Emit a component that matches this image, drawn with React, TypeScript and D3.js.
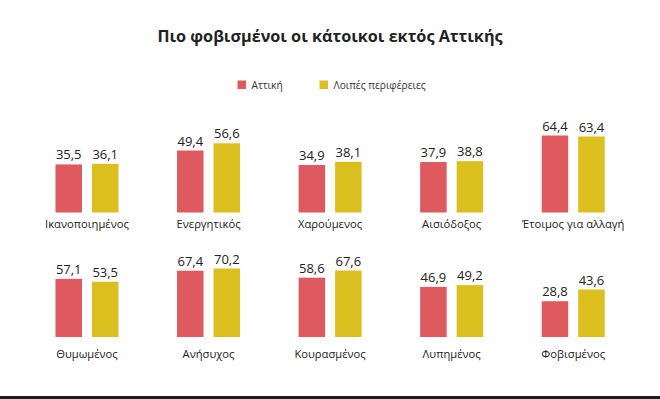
import React from "react";
import * as d3 from "d3";

const title = "Πιο φοβισμένοι οι κάτοικοι εκτός Αττικής";
const seriesNames = ["Αττική", "Λοιπές περιφέρειες"];
const seriesColors = ["#de5a5f", "#dabf1f"];

const row1Categories = ["Ικανοποιημένος", "Ενεργητικός", "Χαρούμενος", "Αισιόδοξος", "Έτοιμος για αλλαγή"];
const row1Attiki = [35.5, 49.4, 34.9, 37.9, 64.4];
const row1Loipes = [36.1, 56.6, 38.1, 38.8, 63.4];

const row2Categories = ["Θυμωμένος", "Ανήσυχος", "Κουρασμένος", "Λυπημένος", "Φοβισμένος"];
const row2Attiki = [57.1, 67.4, 58.6, 46.9, 28.8];
const row2Loipes = [53.5, 70.2, 67.6, 49.2, 43.6];

const W = 660;
const H = 399;
const FONT = "'Open Sans', 'Noto Sans', sans-serif";

type RowSpec = {
  cats: string[];
  a: number[];
  b: number[];
  domain: [number, number];
  range: [number, number];
  labelY: number;
};

const rows: RowSpec[] = [
  { cats: row1Categories, a: row1Attiki, b: row1Loipes, domain: [-12.5, 64.4], range: [212.5, 135.5], labelY: 227.5 },
  { cats: row2Categories, a: row2Attiki, b: row2Loipes, domain: [-16.5, 70.2], range: [337, 268.5], labelY: 358 },
];

const fmt = (v: number) => v.toFixed(1).replace(".", ",");

export default function App() {
  const xPanel = d3.scaleBand<string>().domain(d3.range(5).map(String)).range([26.2, 634]).padding(0);
  const xSeries = d3.scaleBand<string>().domain(seriesNames).range([-31.5, 31.5]).paddingInner(0.274).paddingOuter(0);

  return (
    <svg width={W} height={H} style={{ position: "absolute", left: 0, top: 0, background: "#fff" }} fontFamily={FONT}>
      <rect x={0} y={0} width={W} height={H} fill="#fff" />
      <text x={330} y={42} textAnchor="middle" fontSize={16.2} fontWeight={700} fill="#222">{title}</text>
      {/* legend */}
      <g>
        <rect x={237.5} y={80.5} width={8.5} height={8.5} fill={seriesColors[0]} />
        <text x={251.5} y={88.5} fontSize={10.2} fill="#333">{seriesNames[0]}</text>
        <rect x={319.5} y={80.5} width={8.5} height={8.5} fill={seriesColors[1]} />
        <text x={333.5} y={88.5} fontSize={10.2} fill="#333">{seriesNames[1]}</text>
      </g>
      {rows.map((row, ri) => {
        const y = d3.scaleLinear().domain(row.domain).range(row.range);
        const base = row.range[0];
        return (
          <g key={ri}>
            {row.cats.map((cat, ci) => {
              const cx = (xPanel(String(ci)) as number) + xPanel.bandwidth() / 2;
              const vals = [row.a[ci], row.b[ci]];
              return (
                <g key={cat}>
                  {vals.map((v, si) => {
                    const bx = cx + (xSeries(seriesNames[si]) as number);
                    const top = y(v);
                    return (
                      <g key={si}>
                        <rect x={bx} y={top} width={xSeries.bandwidth()} height={base - top} fill={seriesColors[si]} />
                        <text x={bx + xSeries.bandwidth() / 2} y={top - 5} textAnchor="middle" fontSize={13} fill="#222">{fmt(v)}</text>
                      </g>
                    );
                  })}
                  <text x={cx} y={row.labelY} textAnchor="middle" fontSize={11.2} fill="#222">{cat}</text>
                </g>
              );
            })}
          </g>
        );
      })}
      <rect x={0} y={396} width={W} height={3} fill="#1e1e1e" />
    </svg>
  );
}
